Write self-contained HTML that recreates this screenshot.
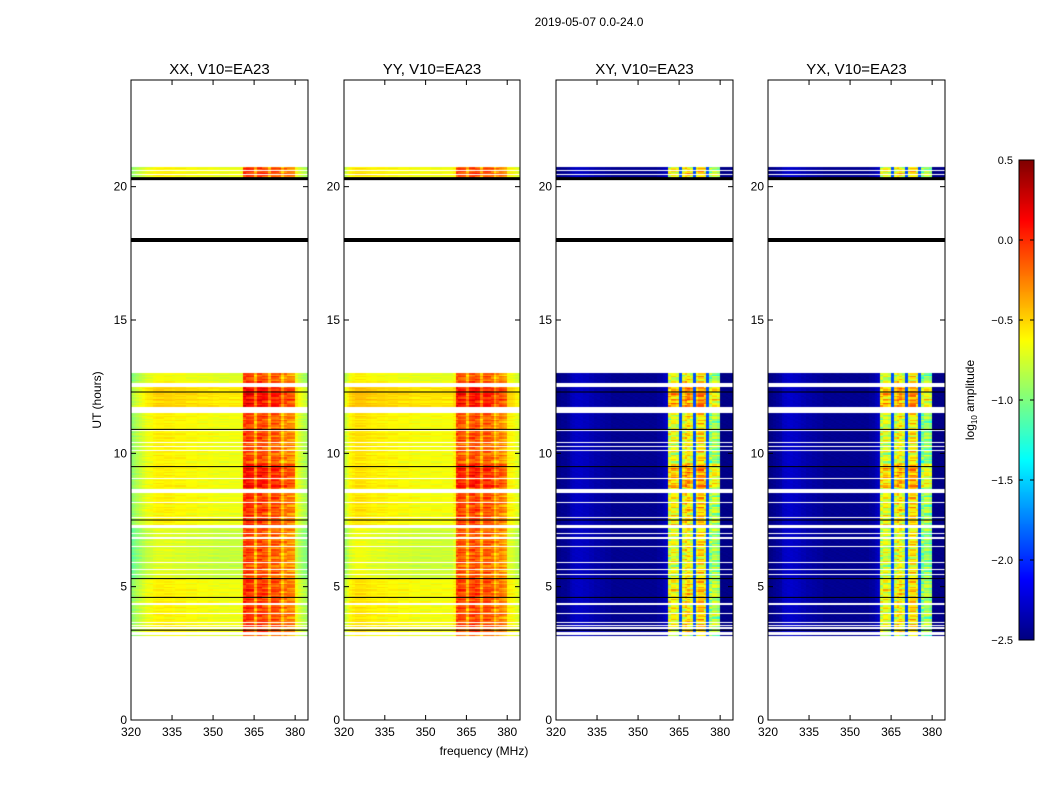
<!DOCTYPE html>
<html><head><meta charset="utf-8"><style>
body{margin:0;background:#fff;width:1050px;height:800px;overflow:hidden;position:relative;font-family:"Liberation Sans",sans-serif}
canvas{position:absolute}
svg{position:absolute;left:0;top:0}
</style></head><body>
<canvas id="c0" width="177" height="640" style="left:131px;top:80px"></canvas>
<canvas id="c1" width="176" height="640" style="left:344px;top:80px"></canvas>
<canvas id="c2" width="177" height="640" style="left:556px;top:80px"></canvas>
<canvas id="c3" width="177" height="640" style="left:768px;top:80px"></canvas>
<canvas id="cb" width="15" height="480" style="left:1019px;top:160px"></canvas>
<svg id="ov" width="1050" height="800"></svg>
<script>
// ---- data ----
const panelTitles=["XX, V10=EA23","YY, V10=EA23","XY, V10=EA23","YX, V10=EA23"];
const yTicks=[0,5,10,15,20];
const xTicks=[320,335,350,365,380];
const cbTicks=[0.5,0.0,-0.5,-1.0,-1.5,-2.0,-2.5];
const cbLabels=["0.5","0.0","\u22120.5","\u22121.0","\u22121.5","\u22122.0","\u22122.5"];
// channel profiles (1 MHz bins 320..384)
const profXX=[-0.95,-0.9,-0.85,-0.8,-0.75,-0.7,-0.68,-0.66,-0.62,-0.6,-0.6,-0.6,-0.6,-0.6,-0.6,-0.62,-0.62,-0.62,-0.62,-0.62,-0.64,-0.64,-0.64,-0.64,-0.64,-0.66,-0.66,-0.66,-0.66,-0.66,-0.68,-0.68,-0.68,-0.68,-0.68,-0.68,-0.68,-0.68,-0.68,-0.68,-0.68,-0.05,-0.02,-0.05,-0.08,-0.4,-0.08,-0.05,-0.08,-0.12,-0.4,-0.12,-0.12,-0.15,-0.18,-0.45,-0.25,-0.25,-0.28,-0.3,-0.65,-0.75,-0.8,-0.85,-0.9];
const profYY=[-0.8,-0.7,-0.62,-0.58,-0.55,-0.55,-0.55,-0.56,-0.57,-0.58,-0.6,-0.6,-0.6,-0.6,-0.6,-0.62,-0.62,-0.62,-0.62,-0.62,-0.64,-0.64,-0.64,-0.64,-0.64,-0.66,-0.66,-0.66,-0.66,-0.66,-0.66,-0.66,-0.66,-0.66,-0.66,-0.66,-0.66,-0.66,-0.66,-0.66,-0.6,-0.12,-0.08,-0.12,-0.15,-0.42,-0.12,-0.08,-0.08,-0.12,-0.4,-0.15,-0.12,-0.15,-0.2,-0.45,-0.3,-0.25,-0.3,-0.35,-0.6,-0.62,-0.65,-0.7,-0.75];
const profXY=[-2.5,-2.48,-2.45,-2.45,-2.42,-2.35,-2.32,-2.3,-2.3,-2.3,-2.32,-2.32,-2.35,-2.35,-2.38,-2.38,-2.4,-2.4,-2.42,-2.42,-2.45,-2.45,-2.45,-2.45,-2.45,-2.45,-2.45,-2.45,-2.45,-2.45,-2.45,-2.45,-2.45,-2.45,-2.45,-2.45,-2.45,-2.42,-2.4,-2.35,-2.3,-0.75,-0.65,-0.65,-0.75,-1.9,-0.7,-0.55,-0.55,-0.7,-1.9,-0.65,-0.5,-0.5,-0.65,-1.9,-0.95,-0.85,-0.85,-0.95,-2.48,-2.48,-2.48,-2.48,-2.48];
const profYX=[-2.5,-2.48,-2.45,-2.42,-2.4,-2.32,-2.3,-2.28,-2.28,-2.3,-2.3,-2.32,-2.35,-2.35,-2.38,-2.38,-2.4,-2.4,-2.42,-2.42,-2.45,-2.45,-2.45,-2.45,-2.45,-2.45,-2.45,-2.45,-2.45,-2.45,-2.45,-2.45,-2.45,-2.45,-2.45,-2.45,-2.45,-2.42,-2.4,-2.35,-2.3,-0.8,-0.7,-0.7,-0.8,-1.9,-0.75,-0.6,-0.6,-0.75,-1.9,-0.7,-0.55,-0.55,-0.7,-1.9,-1.0,-0.9,-0.9,-1.0,-2.48,-2.48,-2.48,-2.48,-2.48];
const profiles=[profXX,profYY,profXY,profYX];
// data time ranges (hours)
const dataStart=[3.15,20.3];
const dataEnd=[13.0,20.73];
// segment offsets: start, end, high-band offset, low-band offset
const segStart=[3.15,5.3,7.3,8.7,9.6,11.73,12.65,20.3];
const segEnd=[5.3,7.3,8.5,9.6,11.5,12.5,13.0,20.73];
const segHi=[0.0,-0.05,0.0,0.12,-0.05,0.15,-0.05,0.0];
const segLo=[0.0,-0.12,0.0,0.0,0.0,0.1,-0.05,0.0];
// flagged (white) intervals
const flagStart=[3.2,3.43,3.54,3.62,3.98,4.33,5.45,5.64,5.88,6.47,6.78,6.84,6.98,7.2,7.58,8.15,8.5,9.05,10.07,10.25,10.4,10.82,11.5,12.5,20.45,20.58];
const flagEnd=[3.3,3.47,3.58,3.66,4.02,4.37,5.49,5.68,5.92,6.51,6.82,6.88,7.02,7.3,7.62,8.19,8.66,9.09,10.11,10.29,10.44,10.86,11.73,12.65,20.48,20.61];
// thin black lines (hours) and thick ones
const thinLines=[12.3,10.9,9.5,7.5,5.3,4.6,3.37];
const thickLines=[20.3,18.0];
const thickW=[3,4];
// texture (hand-read variation)
const jitRow=[0,0.08,-0.05,0.1,-0.1,0.03,0.12,-0.07,0.05,-0.02,0.09,-0.12,0.04];
const jitCell=[0,0.1,-0.15,0.05,0.2,-0.1,0.08];
const vmin=-2.5,vmax=0.5,fmin=320,fmax=384.7,tmin=0,tmax=24;

function jet(v){let x=(v-vmin)/(vmax-vmin);x=Math.max(0,Math.min(1,x));
 const cl=a=>Math.max(0,Math.min(1,a));
 return [cl(1.5-Math.abs(4*x-3))*255,cl(1.5-Math.abs(4*x-2))*255,cl(1.5-Math.abs(4*x-1))*255];}
function inAny(h,s,e){for(let i=0;i<s.length;i++)if(h>=s[i]&&h<e[i])return i;return -1;}

const lefts=[131,344,556,768],widths=[177,176,177,177],top0=80,H=640;
const yS=(h)=>top0+H-(h-tmin)/(tmax-tmin)*H;
profiles.forEach((prof,p)=>{
 const cv=document.getElementById('c'+p),ctx=cv.getContext('2d'),W=widths[p];
 const img=ctx.createImageData(W,H);const cross=p>=2;
 for(let py=0;py<H;py++){
  const h=tmax-(py+0.5)/H*(tmax-tmin);
  if(inAny(h,dataStart,dataEnd)<0||inAny(h,flagStart,flagEnd)>=0)continue;
  const si=inAny(h,segStart,segEnd);const hi=si>=0?segHi[si]:0,lo=si>=0?segLo[si]:0;
  const rb=Math.floor(h/0.05);
  for(let px=0;px<W;px++){
   const f=fmin+(px+0.5)/W*(fmax-fmin);const c=Math.floor(f-320);if(c<0||c>64)continue;
   const high=prof[c]>(cross?-1.5:-0.5);
   let v;
   if(high){v=prof[c]+hi*(cross?1.5:1)+jitRow[rb%13]*(cross?1.3:0.8)+jitCell[(rb*3+Math.floor(c/3))%7]*(cross?1.1:0.6);}
   else if(cross){v=prof[c]+jitCell[(rb+c)%7]*0.12;}
   else{v=prof[c]+lo+jitRow[rb%13]*0.4+jitCell[(rb+Math.floor(c/4))%7]*0.2;}
   const col=jet(v),k=(py*W+px)*4;img.data[k]=col[0];img.data[k+1]=col[1];img.data[k+2]=col[2];img.data[k+3]=255;}
 }
 ctx.putImageData(img,0,0);
});
// colorbar
(function(){const cv=document.getElementById('cb'),ctx=cv.getContext('2d');
 for(let y=0;y<480;y++){const v=vmax-(y+0.5)/480*(vmax-vmin);const c=jet(v);ctx.fillStyle=`rgb(${c[0]|0},${c[1]|0},${c[2]|0})`;ctx.fillRect(0,y,15,1);}})();

const NS='http://www.w3.org/2000/svg',ov=document.getElementById('ov');
function mk(t,a,txt){const e=document.createElementNS(NS,t);for(const k in a)e.setAttribute(k,a[k]);if(txt!==undefined)e.textContent=txt;ov.appendChild(e);return e;}
let e;
e=mk('text',{x:589,y:26,'text-anchor':'middle','font-size':12},'2019-05-07 0.0-24.0');


lefts.forEach((L,p)=>{
 const W=widths[p];const xS=f=>L+(f-fmin)/(fmax-fmin)*W;
 thickLines.forEach((h,i)=>{e=mk('rect',{x:L,y:yS(h)-thickW[i]/2,width:W,height:thickW[i],fill:'#000'});
  
  });
 thinLines.forEach(h=>{e=mk('line',{x1:L,x2:L+W,y1:yS(h),y2:yS(h),stroke:'#000','stroke-width':1});
  
  });
 e=mk('rect',{x:L,y:top0,width:W,height:H,fill:'none',stroke:'#000','stroke-width':1});
 
 
 e=mk('text',{x:L+W/2,y:74,'text-anchor':'middle','font-size':15},panelTitles[p]);
 
 
 yTicks.forEach(t=>{const y=yS(t);
  mk('line',{x1:L,x2:L+5,y1:y,y2:y,stroke:'#000'});mk('line',{x1:L+W-5,x2:L+W,y1:y,y2:y,stroke:'#000'});
  e=mk('text',{x:L-4,y:y+4,'text-anchor':'end','font-size':12},String(t));
  
  });
 xTicks.forEach(t=>{const x=xS(t);
  mk('line',{x1:x,x2:x,y1:top0+H,y2:top0+H-5,stroke:'#000'});mk('line',{x1:x,x2:x,y1:top0,y2:top0+5,stroke:'#000'});
  e=mk('text',{x:x,y:top0+H+16,'text-anchor':'middle','font-size':12},String(t));
  
  });
});
e=mk('text',{x:0,y:0,'text-anchor':'middle','font-size':12,transform:'translate(101,400) rotate(-90)'},'UT (hours)');


e=mk('text',{x:484,y:755,'text-anchor':'middle','font-size':12},'frequency (MHz)');


e=mk('rect',{x:1019,y:160,width:15,height:480,fill:'none',stroke:'#000'});


cbTicks.forEach((t,i)=>{const y=160+(vmax-t)/(vmax-vmin)*480;
 mk('line',{x1:1019,x2:1023,y1:y,y2:y,stroke:'#000'});mk('line',{x1:1030,x2:1034,y1:y,y2:y,stroke:'#000'});
 e=mk('text',{x:1013,y:y+4,'text-anchor':'end','font-size':11},cbLabels[i]);
 
 });
e=mk('text',{x:0,y:0,'text-anchor':'middle','font-size':12,transform:'translate(974,400) rotate(-90)'});
e.innerHTML='log<tspan font-size="8" dy="3">10</tspan><tspan dy="-3"> amplitude</tspan>';


</script>
</body></html>
